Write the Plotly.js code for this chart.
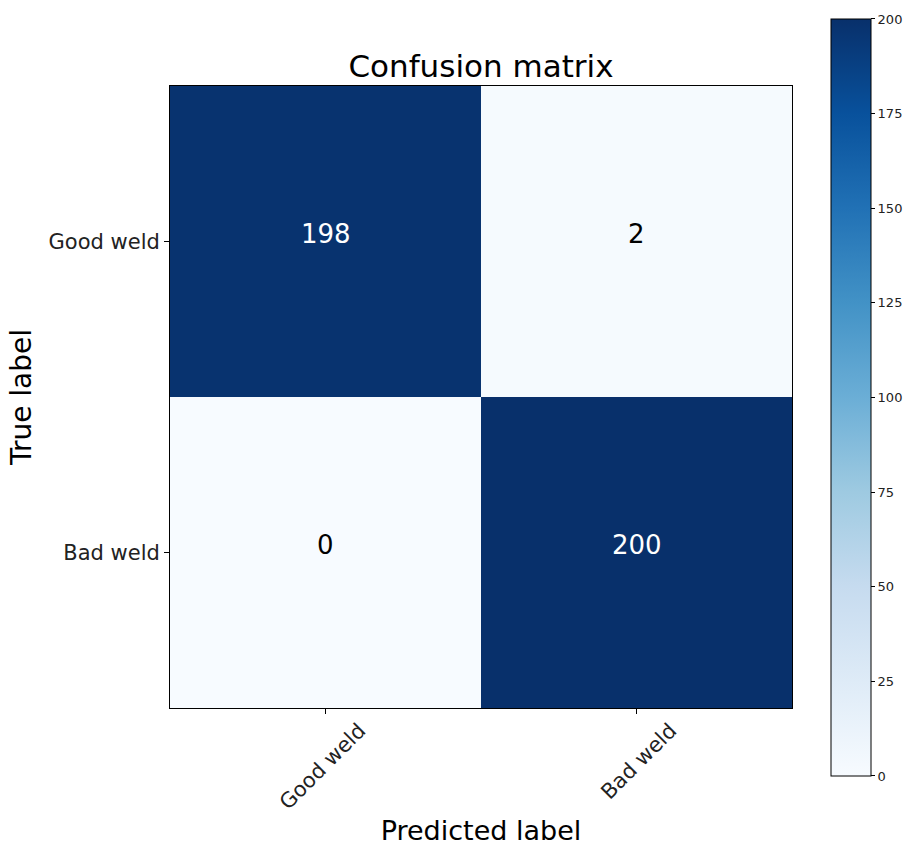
<!DOCTYPE html>
<html>
<head>
<meta charset="utf-8">
<script src="https://cdn.plot.ly/plotly-3.0.1.min.js"></script>
<style>
  html, body { margin: 0; padding: 0; background: #ffffff; }
  #chart { width: 907px; height: 846px; }
</style>
</head>
<body>
<div id="chart"></div>
<script>
// Class labels (predicted on x, true on y)
const predictedLabels = ['Good weld', 'Bad weld'];
const trueLabels = ['Good weld', 'Bad weld'];

// Counts: rows = true label, columns = predicted label
const rowGood = [198, 2];
const rowBad = [0, 200];
const counts = [rowGood, rowBad];

// Colourbar ticks
const cbarTicks = [0, 25, 50, 75, 100, 125, 150, 175, 200];

// Matplotlib "Blues" colour map
const blues = [
  [0.0, '#f7fbff'], [0.125, '#deebf7'], [0.25, '#c6dbef'],
  [0.375, '#9ecae1'], [0.5, '#6baed6'], [0.625, '#4292c6'],
  [0.75, '#2171b5'], [0.875, '#08519c'], [1.0, '#08306b']
];

const zMin = 0, zMax = 200;
const thresh = zMax / 2;
const font = 'DejaVu Sans, sans-serif';

const heat = {
  type: 'heatmap',
  x: predictedLabels,
  y: trueLabels,
  z: counts,
  zmin: zMin,
  zmax: zMax,
  colorscale: blues,
  showscale: true,
  hoverinfo: 'skip',
  colorbar: {
    x: 1.0627, xanchor: 'left', xpad: 0,
    y: 0.4992, yanchor: 'middle', ypad: 0,
    lenmode: 'pixels', len: 757,
    thicknessmode: 'pixels', thickness: 40,
    outlinewidth: 1, outlinecolor: '#000000',
    tickmode: 'array', tickvals: cbarTicks,
    ticks: 'outside', ticklen: 4, tickwidth: 1, tickcolor: '#000000',
    tickfont: { family: font, size: 13, color: '#222222' }
  }
};

// Cell value labels, white on dark cells, black on light ones
const annotations = [];
trueLabels.forEach((t, i) => {
  predictedLabels.forEach((p, j) => {
    const v = counts[i][j];
    annotations.push({
      x: p, y: t, xref: 'x', yref: 'y', yshift: 8,
      text: String(v), showarrow: false,
      font: { family: font, size: 26, color: v > thresh ? '#ffffff' : '#000000' }
    });
  });
});

const layout = {
  width: 907, height: 846,
  margin: { l: 170, r: 115, t: 86, b: 138, autoexpand: false },
  paper_bgcolor: '#ffffff', plot_bgcolor: '#ffffff',
  title: {
    text: 'Confusion matrix',
    font: { family: font, size: 31, color: '#000000' },
    x: 0.5, xref: 'paper', xanchor: 'center',
    y: 1, yref: 'paper', yanchor: 'bottom', pad: { b: 9 }
  },
  xaxis: {
    type: 'category',
    title: { text: 'Predicted label', font: { family: font, size: 27, color: '#000000' }, standoff: 8 },
    tickangle: -45,
    ticklabelshift: 34,
    ticklabelstandoff: -4,
    ticks: 'outside', ticklen: 5, tickwidth: 1, tickcolor: '#000000',
    tickfont: { family: font, size: 21, color: '#222222' },
    showline: true, linecolor: '#000000', linewidth: 1, mirror: true,
    showgrid: false, zeroline: false
  },
  yaxis: {
    type: 'category',
    autorange: 'reversed',
    title: { text: 'True label', font: { family: font, size: 28, color: '#000000' }, standoff: 8 },
    ticks: 'outside', ticklen: 5, tickwidth: 1, tickcolor: '#000000',
    tickfont: { family: font, size: 21, color: '#222222' },
    showline: true, linecolor: '#000000', linewidth: 1, mirror: true,
    showgrid: false, zeroline: false
  },
  annotations: annotations
};

Plotly.newPlot('chart', [heat], layout, { displayModeBar: false, staticPlot: true });
</script>
</body>
</html>
